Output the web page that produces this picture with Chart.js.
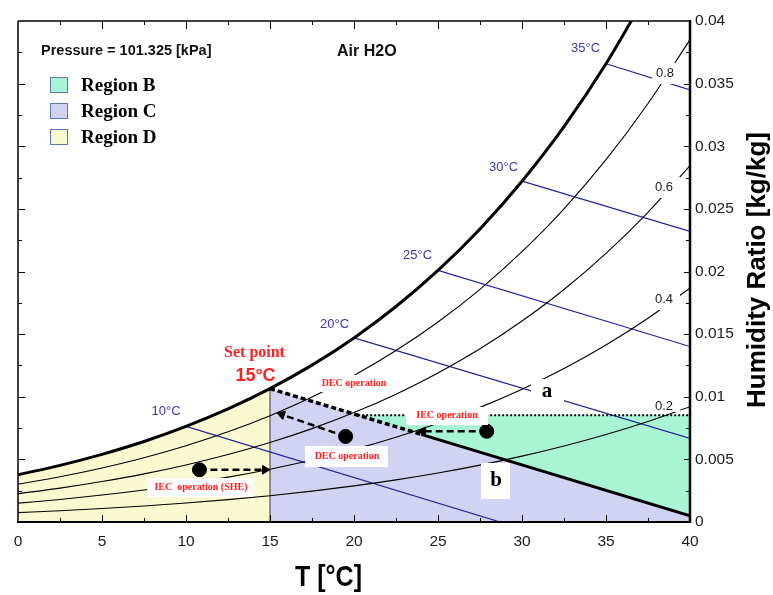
<!DOCTYPE html>
<html><head><meta charset="utf-8">
<script src="https://cdn.jsdelivr.net/npm/chart.js@4/dist/chart.umd.min.js"></script>
<style>html,body{margin:0;padding:0;background:#fff;overflow:hidden}</style>
</head><body>
<canvas id="c" width="773" height="595"></canvas>
<script>
// ---- data ----
const TEMPS = [0,2.5,5,7.5,10,12.5,15,17.5,20,22.5,25,27.5,30,32.5,35,37.5,40];
const RH20 = [0.000751,0.000900,0.001073,0.001275,0.001512,0.001785,0.002101,0.002465,0.002885,0.003366,0.003916,0.004543,0.005258,0.006068,0.006988,0.008030,0.009201];
const RH40 = [0.001504,0.001802,0.002150,0.002556,0.003031,0.003580,0.004217,0.004950,0.005797,0.006769,0.007882,0.009152,0.010605,0.012255,0.014135,0.016270,0.018678];
const RH60 = [0.002259,0.002706,0.003231,0.003842,0.004557,0.005386,0.006347,0.007455,0.008737,0.010209,0.011898,0.013830,0.016045,0.018565,0.021446,0.024728,0.028444];
const RH80 = [0.003016,0.003614,0.004315,0.005133,0.006091,0.007202,0.008491,0.009979,0.011704,0.013687,0.015966,0.018578,0.021579,0.025002,0.028927,0.033413,0.038512];
const SAT_T = [0,2.5,5,7.5,10,12.5,15,17.5,20,22.5,25,27.5,30,32.5,35,37.5];
const SAT_W = [0.003775,0.004524,0.005403,0.006429,0.007632,0.009028,0.010650,0.012525,0.014699,0.017203,0.020086,0.023397,0.027210,0.031570,0.036584,0.042336];
const WB10_T = [10,28.7], WB10_W = [0.007632,0];
const WB20_T = [20,40],   WB20_W = [0.014699,0.00668];
const WB25_T = [25,40],   WB25_W = [0.020086,0.01401];
const WB30_T = [30,40],   WB30_W = [0.027210,0.0232];
const WB35_T = [35,40],   WB35_W = [0.036584,0.0345];
const WB15_T = [15,24,40], WB15_W = [0.01065,0.0070,0.0005];
const LIMIT_T = [20.25,40], LIMIT_W = [0.00852,0.00852];
const STATE_T = [10.8,19.5,27.9], STATE_W = [0.00417,0.00683,0.00724];
const ARROW1_T = [10.8,14.7], ARROW1_W = [0.00417,0.00417];
const ARROW2_T = [19.5,15.7], ARROW2_W = [0.00683,0.00858];
const ARROW3_T = [27.9,24.1], ARROW3_W = [0.00724,0.00724];
const X_MAJOR = [0,5,10,15,20,25,30,35,40];
const Y_LABELS = ['0','0.005','0.01','0.015','0.02','0.025','0.03','0.035','0.04'];
const LEGEND = ['Region B','Region C','Region D'];
const LEGEND_COLORS = ['#a8f5d5','#d2d2f2','#fafad0'];

const pts = (xs, ys) => xs.map((x, i) => ({x: x, y: ys[i]}));
const YEL_T = SAT_T.filter(t => t <= 15);
const YEL_W = SAT_W.slice(0, YEL_T.length);

const BLUE = '#2424a0';
function line(data, extra) {
  return Object.assign({data: data, borderColor: '#000', borderWidth: 1.1, pointRadius: 0, fill: false, clip: 0, order: 10}, extra || {});
}
const datasets = [
  line(pts(LIMIT_T, LIMIT_W), {fill: 'origin', backgroundColor: LEGEND_COLORS[0], borderWidth: 0, order: 30}),
  line(pts(WB15_T, WB15_W), {fill: 'origin', backgroundColor: LEGEND_COLORS[1], borderWidth: 0, order: 29}),
  line(pts(YEL_T, YEL_W), {fill: 'origin', backgroundColor: LEGEND_COLORS[2], borderWidth: 0, order: 28, cubicInterpolationMode: 'monotone'}),
  line(pts(TEMPS, RH20), {cubicInterpolationMode: 'monotone'}),
  line(pts(TEMPS, RH40), {cubicInterpolationMode: 'monotone'}),
  line(pts(TEMPS, RH60), {cubicInterpolationMode: 'monotone'}),
  line(pts(TEMPS, RH80), {cubicInterpolationMode: 'monotone'}),
  line(pts(WB10_T, WB10_W), {borderColor: BLUE, borderWidth: 1.2}),
  line(pts(WB20_T, WB20_W), {borderColor: BLUE, borderWidth: 1.2}),
  line(pts(WB25_T, WB25_W), {borderColor: BLUE, borderWidth: 1.2}),
  line(pts(WB30_T, WB30_W), {borderColor: BLUE, borderWidth: 1.2}),
  line(pts(WB35_T, WB35_W), {borderColor: BLUE, borderWidth: 1.2}),
  line(pts([15,15], [0, WB15_W[0]]), {borderColor: '#333', borderWidth: 1}),
  line(pts(SAT_T, SAT_W), {borderWidth: 3, cubicInterpolationMode: 'monotone', order: 9}),
  line(pts(LIMIT_T, LIMIT_W), {borderWidth: 2, borderDash: [2, 2], order: 5}),
  line(pts(WB15_T.slice(0,2), WB15_W.slice(0,2)), {borderWidth: 3.5, borderDash: [5, 3], order: 4}),
  line(pts(WB15_T.slice(1), WB15_W.slice(1)), {borderWidth: 3, order: 4}),
];
function arrow(xs, ys, rot) {
  return line(pts(xs, ys), {borderWidth: 2.5, borderDash: [7, 4], order: 3, clip: false,
    pointStyle: 'triangle', rotation: rot, pointBackgroundColor: '#000', pointBorderColor: '#000', pointBorderWidth: 1,
    pointRadius: ctx => ctx.dataIndex === 1 ? 5 : 0});
}
datasets.push(arrow(ARROW1_T, ARROW1_W, 90));
datasets.push(arrow(ARROW2_T, ARROW2_W, -71.6));
datasets.push(arrow(ARROW3_T, ARROW3_W, -90));
datasets.push({data: pts(STATE_T, STATE_W), showLine: false, pointRadius: 7, pointBackgroundColor: '#000', pointBorderColor: '#000', order: 2, clip: false});
const DOTTED_INDEX = 14;

// ---- text annotations (pixel placed) ----
const SANS = 'Liberation Sans', SERIF = 'Liberation Serif';
const RED = '#ff1f1f', TBLUE = '#3838b0';
const UNDER = [ // drawn before the thick/dotted lines
  {s: 'DEC operation', x: 354, y: 383, f: 'bold 10px ' + SERIF, c: RED, box: [318, 375, 390, 392]},
  {s: 'a', x: 547, y: 392, f: 'bold 21px ' + SERIF, c: '#000', box: [531, 379, 564, 407]},
  {s: '0.8', x: 665, y: 73, f: '13px ' + SANS, c: '#222', box: [652, 63, 680, 84]},
  {s: '0.6', x: 664, y: 187, f: '13px ' + SANS, c: '#222', box: [652, 177, 680, 198]},
  {s: '0.4', x: 664, y: 299, f: '13px ' + SANS, c: '#222', box: [652, 289, 680, 310]},
  {s: '0.2', x: 664, y: 406, f: '13px ' + SANS, c: '#222', box: [652, 398, 680, 412]},
  {s: 'DEC operation', x: 347, y: 456, f: 'bold 10px ' + SERIF, c: RED, box: [305, 446, 388, 467]},
  {s: 'IEC  operation (SHE)', x: 201, y: 487, f: 'bold 10px ' + SERIF, c: RED, box: [147, 478, 253, 497]},
  {s: 'b', x: 496, y: 481, f: 'bold 21px ' + SERIF, c: '#000', box: [481, 463, 510, 499]},
];
const OVER = [
  {s: 'IEC operation', x: 447, y: 415, f: 'bold 10px ' + SERIF, c: RED, box: [406, 407, 488, 425]},
  {s: 'Pressure = 101.325 [kPa]', x: 41, y: 51, f: 'bold 14.5px ' + SANS, c: '#111', a: 'left'},
  {s: 'Air H2O', x: 337, y: 52, f: 'bold 16px ' + SANS, c: '#111', a: 'left'},
  {s: '35°C', x: 585.5, y: 48, f: '13px ' + SANS, c: TBLUE},
  {s: '30°C', x: 503.5, y: 167, f: '13px ' + SANS, c: TBLUE},
  {s: '25°C', x: 417.5, y: 255, f: '13px ' + SANS, c: TBLUE},
  {s: '20°C', x: 334.5, y: 324, f: '13px ' + SANS, c: TBLUE},
  {s: '10°C', x: 166, y: 411.5, f: '13px ' + SANS, c: TBLUE},
  {s: 'Set point', x: 254.5, y: 353, f: 'bold 16px ' + SERIF, c: RED},
  {s: '15°C', x: 255.5, y: 376, f: 'bold 18px ' + SANS, c: RED},
];
function drawTexts(ctx, list) {
  list.forEach(t => {
    if (t.box) { ctx.fillStyle = '#fff'; ctx.fillRect(t.box[0], t.box[1], t.box[2] - t.box[0], t.box[3] - t.box[1]); }
    ctx.font = t.f; ctx.fillStyle = t.c; ctx.textAlign = t.a || 'center'; ctx.textBaseline = 'middle';
    ctx.fillText(t.s, t.x, t.y);
  });
}
const isMult = (v, step) => Math.abs(v / step - Math.round(v / step)) < 1e-6;

const decor = {
  id: 'decor',
  beforeDatasetDraw(chart, args) {
    if (args.index === DOTTED_INDEX) { const ctx = chart.ctx; ctx.save(); drawTexts(ctx, UNDER); ctx.restore(); }
  },
  afterDatasetsDraw(chart) {
    const ctx = chart.ctx, a = chart.chartArea, xs = chart.scales.x, ys = chart.scales.y;
    ctx.save();
    drawTexts(ctx, OVER);
    // frame
    ctx.strokeStyle = '#000'; ctx.setLineDash([]);
    const seg = (x1, y1, x2, y2, w) => { ctx.lineWidth = w; ctx.beginPath(); ctx.moveTo(x1, y1); ctx.lineTo(x2, y2); ctx.stroke(); };
    seg(a.left, a.top, a.right, a.top, 1.5);
    seg(a.left, a.top, a.left, a.bottom, 1.5);
    seg(a.left - 1, a.bottom, a.right + 1, a.bottom, 2);
    seg(a.right, a.top - 1, a.right, a.bottom + 1, 2.5);
    // inward ticks
    xs.ticks.forEach(t => {
      if (t.value <= 0 || t.value >= 40) return;
      const p = Math.round(xs.getPixelForValue(t.value)) + 0.5, mj = isMult(t.value, 5);
      seg(p, a.bottom, p, a.bottom - (mj ? 7 : 4), 1);
      seg(p, a.top, p, a.top + (mj ? 8 : 4), 1);
    });
    ys.ticks.forEach(t => {
      if (t.value <= 0 || t.value >= 0.04 - 1e-9) return;
      const p = Math.round(ys.getPixelForValue(t.value)) + 0.5, mj = isMult(t.value, 0.005);
      seg(a.left, p, a.left + (mj ? 7 : 4), p, 1);
      seg(a.right, p, a.right - (mj ? 6 : 4), p, 1);
    });
    // legend
    LEGEND.forEach((s, i) => {
      const y = [77, 103, 129][i];
      ctx.fillStyle = LEGEND_COLORS[i]; ctx.fillRect(50, y, 18, 16);
      ctx.strokeStyle = '#5a78b8'; ctx.lineWidth = 1; ctx.strokeRect(50.5, y + 0.5, 17, 15);
      ctx.font = 'bold 19px ' + SERIF; ctx.fillStyle = '#000'; ctx.textAlign = 'left'; ctx.textBaseline = 'middle';
      ctx.fillText(s, 81, y + 9);
    });
    // axis titles
    ctx.fillStyle = '#000';
    ctx.save(); ctx.translate(328.5, 578); ctx.scale(1, 1.2);
    ctx.font = 'bold 25px ' + SANS; ctx.textAlign = 'center'; ctx.textBaseline = 'middle';
    ctx.fillText('T [°C]', 0, 0); ctx.restore();
    ctx.save(); ctx.translate(758, 270); ctx.rotate(-Math.PI / 2);
    ctx.font = 'bold 26px ' + SANS; ctx.textAlign = 'center'; ctx.textBaseline = 'middle';
    ctx.fillText('Humidity Ratio [kg/kg]', 0, 0); ctx.restore();
    ctx.restore();
  }
};

new Chart(document.getElementById('c'), {
  type: 'line',
  data: {datasets: datasets},
  plugins: [decor],
  options: {
    responsive: false, animation: false, events: [],
    layout: {padding: {left: 18, top: 21, right: 0, bottom: 0}},
    plugins: {legend: {display: false}, tooltip: {enabled: false}, filler: {drawTime: 'beforeDatasetsDraw'}},
    scales: {
      x: {type: 'linear', position: 'bottom', min: 0, max: 40,
          grid: {display: false, drawTicks: false}, border: {display: false},
          ticks: {stepSize: 2.5, autoSkip: false, maxRotation: 0, padding: 10, color: '#1a1a1a',
                  font: {family: SANS, size: 15.5},
                  callback: v => { const i = X_MAJOR.findIndex(m => Math.abs(m - v) < 1e-6); return i >= 0 ? String(X_MAJOR[i]) : ''; }},
          afterFit: s => { s.height = 73; }},
      y: {type: 'linear', position: 'right', min: 0, max: 0.04,
          grid: {display: false, drawTicks: false}, border: {display: false},
          ticks: {stepSize: 0.0025, autoSkip: false, padding: 5, color: '#1a1a1a',
                  font: {family: SANS, size: 15.5},
                  callback: v => isMult(v, 0.005) ? Y_LABELS[Math.round(v / 0.005)] : ''},
          afterFit: s => { s.width = 83; }}
    }
  }
});
</script>
</body></html>
